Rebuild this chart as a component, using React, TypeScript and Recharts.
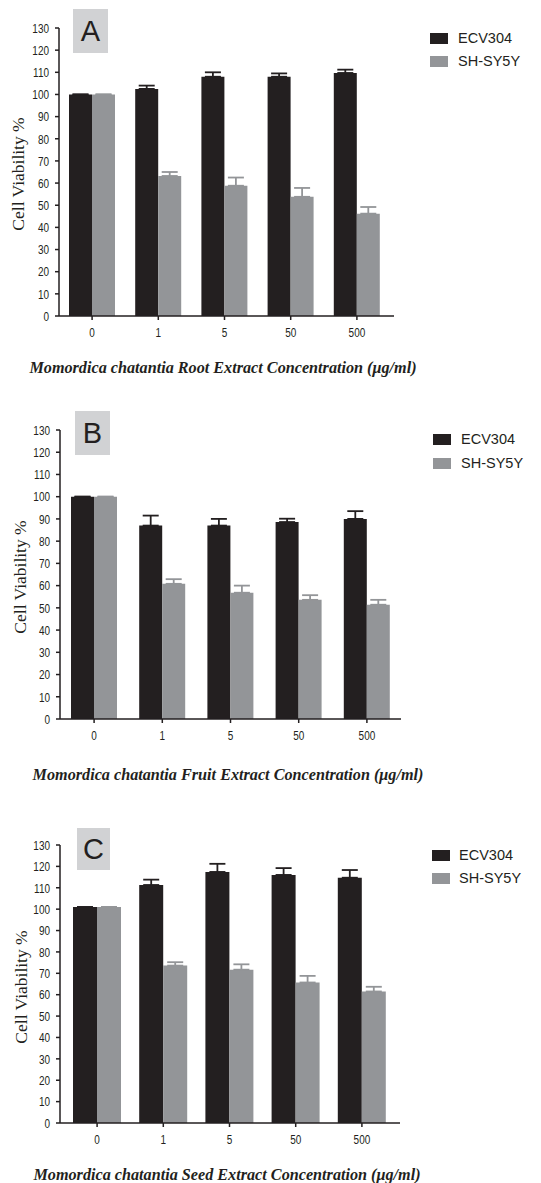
import React from "react";
import { BarChart, Bar, XAxis, YAxis, ErrorBar } from "recharts";

const concentrations = ["0", "1", "5", "50", "500"];
const yTicks = [0, 10, 20, 30, 40, 50, 60, 70, 80, 90, 100, 110, 120, 130];

// A: root extract
const rootEcv = [100, 102.5, 108, 108, 109.7];
const rootEcvErr = [0, 1.5, 2, 1.5, 1.5];
const rootSh = [100, 63.2, 58.8, 53.8, 46.2];
const rootShErr = [0, 1.8, 3.7, 4, 3];

// B: fruit extract
const fruitEcv = [100, 87, 87, 88.6, 90];
const fruitEcvErr = [0, 4.5, 3, 1.5, 3.5];
const fruitSh = [100, 60.8, 56.8, 53.6, 51.4];
const fruitShErr = [0, 2.1, 3.2, 2.1, 2.2];

// C: seed extract
const seedEcv = [101, 111.3, 117.4, 116, 114.7];
const seedEcvErr = [0, 2.5, 3.8, 3.2, 3.6];
const seedSh = [101, 73.6, 71.7, 65.7, 61.5];
const seedShErr = [0, 1.6, 2.5, 3.1, 2.2];

const DARK = "#231f20";
const GRAY = "#939598";
const tickFont = "'Liberation Sans', Arial, sans-serif";

const buildData = (ecv: number[], ecvErr: number[], sh: number[], shErr: number[]) =>
  concentrations.map((c, i) => ({
    conc: c,
    ecv: ecv[i],
    ecvErr: [0, ecvErr[i]],
    sh: sh[i],
    shErr: [0, shErr[i]],
  }));

// narrow digits like the original figure font
const NarrowTick = (props: any) => {
  const { x, y, payload, textAnchor, vertical } = props;
  return (
    <g transform={`translate(${x},${y})`}>
      <text
        transform="scale(0.74,1)"
        textAnchor={textAnchor}
        dy={vertical ? "0.355em" : "0.71em"}
        fill={DARK}
        fontSize={13.5}
        fontFamily={tickFont}
      >
        {payload.value}
      </text>
    </g>
  );
};

type PanelProps = {
  top: number;
  height: number;
  margin: { top: number; right: number; bottom: number; left: number };
  yWidth: number;
  pad: { left: number; right: number };
  barSize: number;
  data: ReturnType<typeof buildData>;
  letter: string;
  letterBox: { x: number; y: number; w: number; h: number };
  legend: { x: number; y: number; gap: number; textX: number };
  yTitle: { x: number; y: number };
  xTitle: { x: number; y: number };
  title: string;
};

const Panel: React.FC<PanelProps> = (p) => {
  return (
    <>
      <div style={{ position: "absolute", left: 0, top: p.top }}>
        <BarChart width={541} height={p.height} data={p.data} margin={p.margin} barGap={0} barSize={p.barSize}>
          <XAxis
            dataKey="conc"
            height={30}
            padding={p.pad}
            tickSize={4}
            tickMargin={7}
            axisLine={{ stroke: DARK, strokeWidth: 1.5 }}
            tickLine={{ stroke: DARK, strokeWidth: 1.5 }}
            tick={<NarrowTick />}
            interval={0}
          />
          <YAxis
            width={p.yWidth}
            domain={[0, 130]}
            ticks={yTicks}
            interval={0}
            tickSize={4}
            tickMargin={6}
            axisLine={{ stroke: DARK, strokeWidth: 1.5 }}
            tickLine={{ stroke: DARK, strokeWidth: 1.5 }}
            tick={<NarrowTick vertical />}
          />
          <Bar dataKey="ecv" fill={DARK} isAnimationActive={false}>
            <ErrorBar dataKey="ecvErr" width={8} stroke={DARK} strokeWidth={1.8} direction="y" isAnimationActive={false} />
          </Bar>
          <Bar dataKey="sh" fill={GRAY} isAnimationActive={false}>
            <ErrorBar dataKey="shErr" width={8} stroke={GRAY} strokeWidth={1.8} direction="y" isAnimationActive={false} />
          </Bar>
        </BarChart>
      </div>
      <div
        style={{
          position: "absolute",
          left: p.letterBox.x,
          top: p.letterBox.y,
          width: p.letterBox.w,
          height: p.letterBox.h,
          background: "#d1d2d4",
          display: "flex",
          alignItems: "center",
          justifyContent: "center",
          fontFamily: "'Liberation Sans', Arial, sans-serif",
          fontSize: 29,
          color: DARK,
        }}
      >
        {p.letter}
      </div>
      {[
        { name: "ECV304", color: DARK },
        { name: "SH-SY5Y", color: GRAY },
      ].map((item, i) => (
        <div key={item.name}>
          <div
            style={{
              position: "absolute",
              left: p.legend.x,
              top: p.legend.y + i * p.legend.gap,
              width: 18,
              height: 11,
              background: item.color,
            }}
          />
          <div
            style={{
              position: "absolute",
              left: p.legend.textX,
              top: p.legend.y + i * p.legend.gap - 3,
              fontFamily: "'Liberation Sans', Arial, sans-serif",
              fontSize: 14.5,
              lineHeight: "16px",
              color: DARK,
              whiteSpace: "nowrap",
            }}
          >
            {item.name}
          </div>
        </div>
      ))}
      <div
        style={{
          position: "absolute",
          left: p.yTitle.x - 100,
          top: p.yTitle.y - 10,
          width: 200,
          height: 20,
          lineHeight: "20px",
          textAlign: "center",
          transform: "rotate(-90deg)",
          fontFamily: "'Liberation Serif', 'Times New Roman', serif",
          fontSize: 17.5,
          color: DARK,
        }}
      >
        Cell Viability %
      </div>
      <div
        style={{
          position: "absolute",
          left: p.xTitle.x - 260,
          top: p.xTitle.y - 10,
          width: 520,
          height: 20,
          lineHeight: "20px",
          textAlign: "center",
          fontFamily: "'Liberation Serif', 'Times New Roman', serif",
          fontStyle: "italic",
          fontWeight: "bold",
          fontSize: 16.2,
          color: DARK,
          whiteSpace: "nowrap",
        }}
      >
        {p.title}
      </div>
    </>
  );
};

export default function App() {
  return (
    <div style={{ position: "absolute", left: 0, top: 0, width: 541, height: 1183, background: "#fff", overflow: "hidden" }}>
      <Panel
        top={0}
        height={400}
        margin={{ top: 28, right: 147, bottom: 54, left: 0 }}
        yWidth={59}
        pad={{ left: 0, right: 4 }}
        barSize={23}
        data={buildData(rootEcv, rootEcvErr, rootSh, rootShErr)}
        letter="A"
        letterBox={{ x: 73, y: 9, w: 35, h: 44 }}
        legend={{ x: 430, y: 33, gap: 23, textX: 458 }}
        yTitle={{ x: 18, y: 174 }}
        xTitle={{ x: 223, y: 368 }}
        title="Momordica chatantia Root Extract Concentration (μg/ml)"
      />
      <Panel
        top={400}
        height={400}
        margin={{ top: 30, right: 140, bottom: 51, left: 0 }}
        yWidth={60}
        pad={{ left: 0, right: 0 }}
        barSize={23}
        data={buildData(fruitEcv, fruitEcvErr, fruitSh, fruitShErr)}
        letter="B"
        letterBox={{ x: 75, y: 411, w: 35, h: 44 }}
        legend={{ x: 433, y: 434, gap: 24, textX: 461 }}
        yTitle={{ x: 20, y: 577 }}
        xTitle={{ x: 228, y: 775 }}
        title="Momordica chatantia Fruit Extract Concentration (μg/ml)"
      />
      <Panel
        top={800}
        height={383}
        margin={{ top: 45, right: 141, bottom: 30, left: 0 }}
        yWidth={60}
        pad={{ left: 4, right: 5 }}
        barSize={24}
        data={buildData(seedEcv, seedEcvErr, seedSh, seedShErr)}
        letter="C"
        letterBox={{ x: 77, y: 828, w: 33, h: 42 }}
        legend={{ x: 432, y: 850, gap: 23, textX: 459 }}
        yTitle={{ x: 21, y: 987 }}
        xTitle={{ x: 227, y: 1175 }}
        title="Momordica chatantia Seed Extract Concentration (μg/ml)"
      />
    </div>
  );
}
